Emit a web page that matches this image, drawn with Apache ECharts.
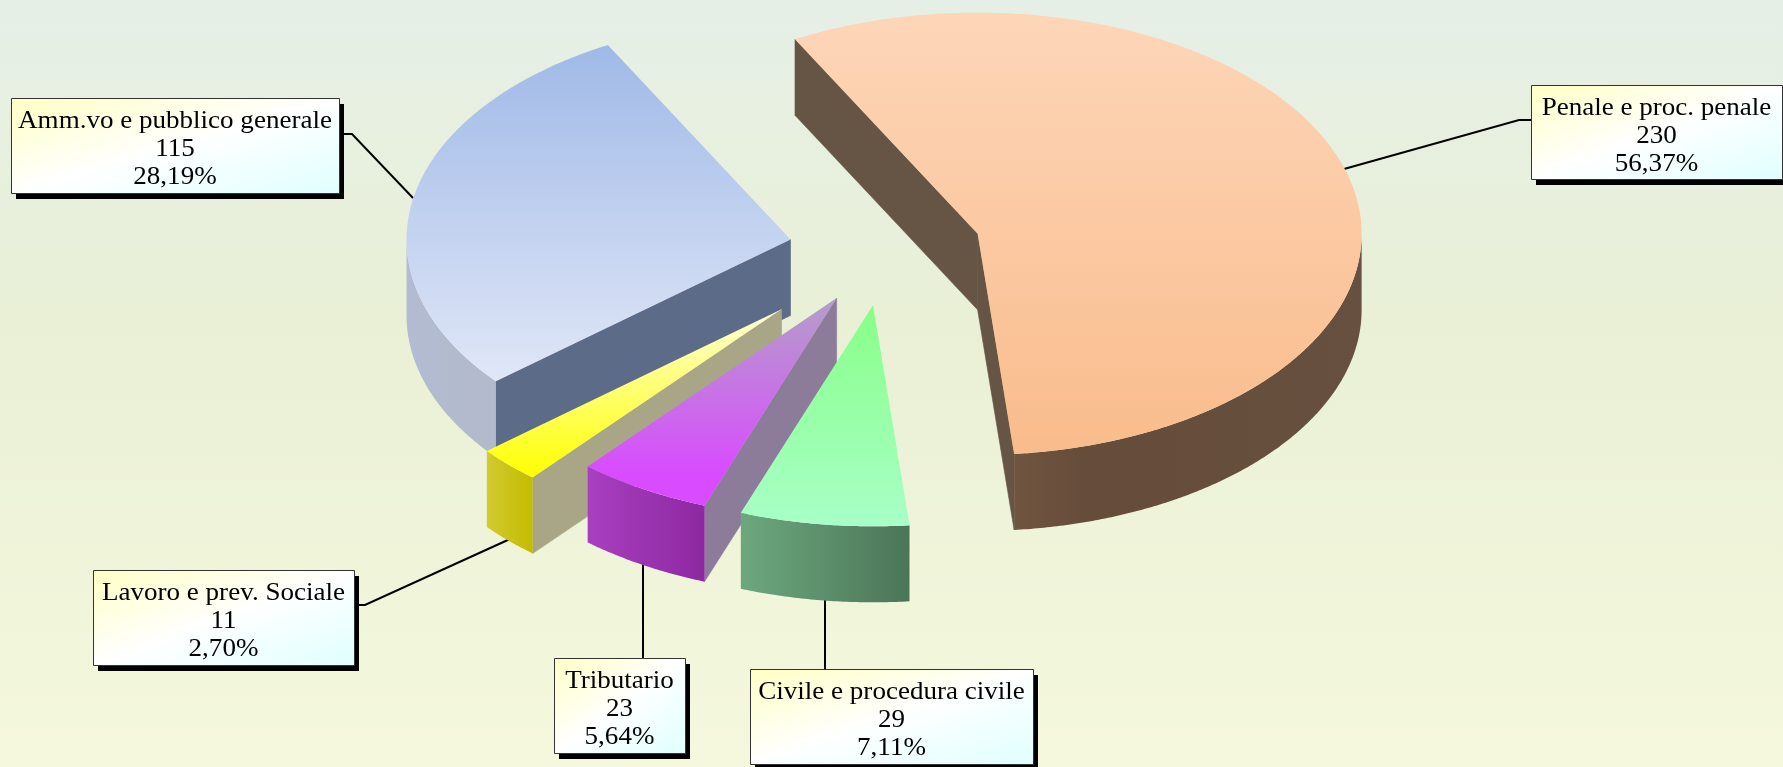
<!DOCTYPE html>
<html><head><meta charset="utf-8">
<style>html,body{margin:0;padding:0;background:#fff}#c{width:1783px;height:767px}</style>
<script src="https://cdn.jsdelivr.net/npm/echarts@6/dist/echarts.min.js"></script>
</head><body><div id="c"></div>
<script>
// ---- data ----
const categories = ['Penale e proc. penale','Civile e procedura civile','Tributario','Lavoro e prev. Sociale','Amm.vo e pubblico generale'];
const values = [230,29,23,11,115];

// ---- pie geometry and styles ----
const centre = [885.3,250], radius = 384, squash = 0.576, depth = 76, startAngle = -28.4;
const pull = [96.5,96.5,96.5,146,96.5];
const topStops = [['#fdd6b8','#f9bc8c'],['#88ff88','#a8ffc8'],['#b49fc9','#d94bff'],['#ffffd8','#ffff00'],['#a0b9e7','#e0e7f7']];
const rimStops = [
  [[0,'#705540'],[.2,'#664c3a'],[1,'#66503f']],
  [[0,'#6ca87e'],[1,'#4c7558']],
  [[0,'#a83fc0'],[1,'#8e28a0']],
  [[0,'#d2ca30'],[1,'#c4bc00']],
  [[0,'#b2bcd2'],[1,'#b2b9ca']]
];
const wallColor = ['#665444','#5f8a6e','#8c7c9a','#a8a686','#5c6b88'];

// ---- label layout: box [x0,y0,x1,y1], leader polyline ----
const boxes = [[1531,85,1782,179],[750,669,1033,764],[554,658,685,753],[93,570,354,665],[11,98,339,193]];
const leaders = [
  [[1531,120],[1519,120],[1344,169]],
  [[825,669],[825,599]],
  [[643,658],[643,563]],
  [[358,605],[365,605],[510,539]],
  [[344,134],[352,134],[413,198]]
];
const fontPx = 26, linePitch = 28, textStretch = 1.04, textDrop = 4;

const total = values.reduce((a,b)=>a+b,0);
const rad = d => d*Math.PI/180;
const spans = []; { let a = startAngle; values.forEach(v=>{ const s = v/total*360; spans.push([a,a+s]); a += s; }); }
const linear = (x0,y0,x1,y1,stops)=>new echarts.graphic.LinearGradient(x0,y0,x1,y1,stops);
const percentText = v => (v/total*100).toFixed(2).replace('.',',')+'%';

function renderSlice(params, api){
  const i = params.dataIndex, v = api.value(0);
  const [a0] = spans[i]; const a1 = a0 + v/total*360; const mid = (a0+a1)/2;
  const apex = [centre[0]+pull[i]*Math.sin(rad(mid)), centre[1]-pull[i]*squash*Math.cos(rad(mid))];
  const rim = a => [apex[0]+radius*Math.sin(rad(a)), apex[1]-radius*squash*Math.cos(rad(a))];
  const down = p => [p[0],p[1]+depth];
  const px = p => api.coord(p);
  const arc = (s,e) => { const n = Math.max(2,Math.ceil(Math.abs(e-s))*2), out=[]; for(let k=0;k<=n;k++) out.push(rim(s+(e-s)*k/n)); return out; };
  const z2 = values.length - i;
  const kids = [];
  // radial walls that face the viewer
  [a0,a1].forEach(a=>{
    const d = [Math.sin(rad(a)), -squash*Math.cos(rad(a))];
    const m = [Math.sin(rad(mid)), -squash*Math.cos(rad(mid))];
    const inside = d[0]*m[1]-d[1]*m[0];
    if (d[0]*inside < 0) {
      const e = rim(a);
      kids.push({type:'polygon',z2,shape:{points:[apex,e,down(e),down(apex)].map(px)},style:{fill:wallColor[i],stroke:wallColor[i],lineWidth:.6}});
    }
  });
  // outer rim, front half only
  const lo = Math.max(a0,90), hi = Math.min(a1,270);
  if (hi > lo) {
    const upper = arc(lo,hi), lower = upper.map(down).reverse();
    kids.push({type:'polygon',z2,shape:{points:upper.concat(lower).map(px)},
      style:{fill:linear(0,0,1,0,rimStops[i].map(s=>({offset:s[0],color:s[1]})))}});
  }
  // top face
  kids.push({type:'polygon',z2,shape:{points:[apex].concat(arc(a0,a1)).map(px)},
    style:{fill:linear(0,0,0,1,[{offset:0,color:topStops[i][0]},{offset:i===2?.85:1,color:topStops[i][1]},{offset:1,color:topStops[i][1]}])}});
  return {type:'group',children:kids};
}

function boxFill(x,y,w,h){
  // iso-colour lines run parallel to the box's anti-diagonal
  const L = Math.hypot(w,h), nx = h/L, ny = w/L, t = w*h/L, cx = x+w/2, cy = y+h/2;
  return new echarts.graphic.LinearGradient(cx-nx*t,cy-ny*t,cx+nx*t,cy+ny*t,
    [{offset:0,color:'#ffffc4'},{offset:.5,color:'#ffffff'},{offset:1,color:'#e0ffff'}],true);
}

function renderLabel(params, api){
  const i = params.dataIndex, v = api.value(0);
  const [x0,y0,x1,y1] = boxes[i];
  const a = api.coord([x0,y0]), b = api.coord([x1,y1]);
  const w = b[0]-a[0], h = b[1]-a[1], cx = a[0]+w/2, cy = a[1]+h/2;
  const lines = [categories[i], String(v), percentText(v)];
  const kids = [
    {type:'rect',z2:10,shape:{x:a[0]+5,y:a[1]+6,width:w,height:h},style:{fill:'#000'}},
    {type:'rect',z2:11,shape:{x:a[0]+.5,y:a[1]+.5,width:w,height:h},
      style:{fill:boxFill(a[0],a[1],w,h),stroke:'#333',lineWidth:1}}
  ];
  lines.forEach((t,k)=>kids.push({type:'text',z2:12,x:cx,y:cy+(k-1)*linePitch+textDrop,scaleX:textStretch,originX:0,originY:0,
    style:{text:t,x:0,y:0,align:'center',verticalAlign:'middle',fill:'#000',font:fontPx+"px 'Liberation Serif'"}}));
  return {type:'group',children:kids};
}

function renderLeader(params, api){
  return {type:'polyline',z2:0,shape:{points:leaders[params.dataIndex].map(p=>api.coord(p))},style:{fill:'none',stroke:'#000',lineWidth:2}};
}

const chart = echarts.init(document.getElementById('c'),null,{renderer:'canvas'});
const rows = values.map(v=>[v]);
chart.setOption({
  animation:false,
  backgroundColor:new echarts.graphic.LinearGradient(0,0,0,1,[
    {offset:0,color:'#e6efe7'},{offset:.42,color:'#e9f0d6'},{offset:1,color:'#f5f8dd'}]),
  grid:{left:0,right:0,top:0,bottom:0},
  xAxis:{type:'value',min:0,max:1783,show:false},
  yAxis:{type:'value',min:0,max:767,inverse:true,show:false},
  series:[
    {type:'custom',name:'leaders',z:1,silent:true,clip:false,renderItem:renderLeader,data:rows},
    {type:'custom',name:'slices',z:2,silent:true,clip:false,renderItem:renderSlice,data:rows},
    {type:'custom',name:'labels',z:3,silent:true,clip:false,renderItem:renderLabel,data:rows}
  ]
});
</script></body></html>
